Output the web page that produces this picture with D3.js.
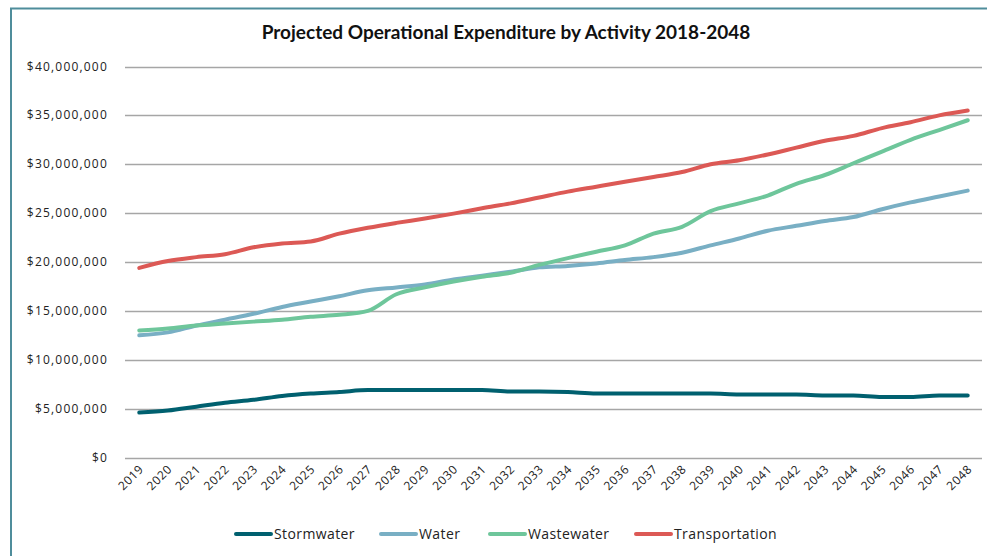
<!DOCTYPE html>
<html>
<head>
<meta charset="utf-8">
<script src="https://cdn.jsdelivr.net/npm/d3@7"></script>
<style>
  body { margin: 0; background: #fff; }
  svg { display: block; }
</style>
</head>
<body>
<svg id="chart" width="987" height="556"></svg>
<script>
// values in $ millions
const years = d3.range(2019, 2049).map(String);

const stormwater = [4.6, 4.8, 5.2, 5.6, 5.9, 6.3, 6.55, 6.7, 6.9, 6.9,
    6.9, 6.9, 6.9, 6.75, 6.75, 6.7, 6.55, 6.55, 6.55, 6.55,
    6.55, 6.45, 6.45, 6.45, 6.35, 6.35, 6.2, 6.2, 6.35, 6.35];

const water = [12.5, 12.8, 13.5, 14.1, 14.7, 15.4, 15.95, 16.5, 17.1, 17.4,
    17.7, 18.2, 18.6, 19.0, 19.45, 19.6, 19.85, 20.2, 20.5, 20.95,
    21.7, 22.4, 23.2, 23.7, 24.2, 24.6, 25.4, 26.1, 26.7, 27.3];

const wastewater = [13.0, 13.2, 13.5, 13.7, 13.9, 14.1, 14.4, 14.6, 15.0, 16.7,
    17.4, 18.0, 18.5, 18.9, 19.7, 20.4, 21.05, 21.7, 22.9, 23.6,
    25.2, 26.0, 26.8, 28.0, 28.9, 30.1, 31.3, 32.5, 33.5, 34.5];

const transportation = [19.4, 20.1, 20.5, 20.8, 21.5, 21.9, 22.1, 22.9, 23.5, 24.0,
    24.45, 24.95, 25.5, 26.0, 26.6, 27.2, 27.7, 28.2, 28.7, 29.2,
    30.0, 30.4, 31.0, 31.7, 32.4, 32.9, 33.7, 34.3, 35.0, 35.5];

const yTicks = [0, 5, 10, 15, 20, 25, 30, 35, 40];

const series = [
    {name: "Stormwater", values: stormwater, color: "#00606f"},
    {name: "Water", values: water, color: "#79afc4"},
    {name: "Wastewater", values: wastewater, color: "#6ec69b"},
    {name: "Transportation", values: transportation, color: "#dc5955"}
];

const svg = d3.select("#chart");
const font = "'Open Sans', 'DejaVu Sans', sans-serif";

// outer frame
svg.append("path")
    .attr("d", "M11,600 L11,8.5 L990,8.5")
    .attr("fill", "none")
    .attr("stroke", "#4f8d9b")
    .attr("stroke-width", 2);

svg.append("text")
    .attr("x", 506)
    .attr("y", 39)
    .attr("text-anchor", "middle")
    .attr("font-family", "Lato, 'Open Sans', sans-serif")
    .attr("font-weight", "bold")
    .attr("font-size", 19)
    .attr("fill", "#111")
    .text("Projected Operational Expenditure by Activity 2018-2048");

const x = d3.scalePoint().domain(years).range([125, 982]).padding(0.5);
const y = d3.scaleLinear().domain([0, 40]).range([457.5, 66.5]);

// grid
svg.append("g")
    .selectAll("line")
    .data(yTicks)
    .join("line")
    .attr("x1", 125)
    .attr("x2", 982)
    .attr("y1", d => Math.round(y(d)) + 0.5)
    .attr("y2", d => Math.round(y(d)) + 0.5)
    .attr("stroke", "#a6a6a6")
    .attr("stroke-width", 1.3);

// y labels
const fmt = d3.format(",");
svg.append("g")
    .selectAll("text")
    .data(yTicks)
    .join("text")
    .attr("x", 108)
    .attr("y", d => y(d) + 4)
    .attr("text-anchor", "end")
    .attr("font-family", font)
    .attr("font-size", 12)
    .attr("letter-spacing", 1.2)
    .attr("fill", "#222")
    .text(d => "$" + fmt(d * 1e6));

// x labels
svg.append("g")
    .selectAll("text")
    .data(years)
    .join("text")
    .attr("transform", d => `translate(${x(d) + 5},${470}) rotate(-45)`)
    .attr("text-anchor", "end")
    .attr("font-family", font)
    .attr("font-size", 12)
    .attr("letter-spacing", 0.6)
    .attr("fill", "#222")
    .text(d => d);

// lines
const line = d3.line()
    .x((d, i) => x(years[i]))
    .y(d => y(d))
    .curve(d3.curveMonotoneX);

svg.append("g")
    .selectAll("path")
    .data(series)
    .join("path")
    .attr("d", d => line(d.values))
    .attr("fill", "none")
    .attr("stroke", d => d.color)
    .attr("stroke-width", 4)
    .attr("stroke-linecap", "round")
    .attr("stroke-linejoin", "round");

// legend
const legendX = [236, 381, 490, 636];
const legend = svg.append("g")
    .selectAll("g")
    .data(series)
    .join("g")
    .attr("transform", (d, i) => `translate(${legendX[i]},534)`);

legend.append("line")
    .attr("x1", 0)
    .attr("x2", 35)
    .attr("stroke", d => d.color)
    .attr("stroke-width", 4)
    .attr("stroke-linecap", "round");

legend.append("text")
    .attr("x", 38)
    .attr("y", 5)
    .attr("font-family", font)
    .attr("font-size", 14)
    .attr("letter-spacing", 0.4)
    .attr("fill", "#222")
    .text(d => d.name);
</script>
</body>
</html>
